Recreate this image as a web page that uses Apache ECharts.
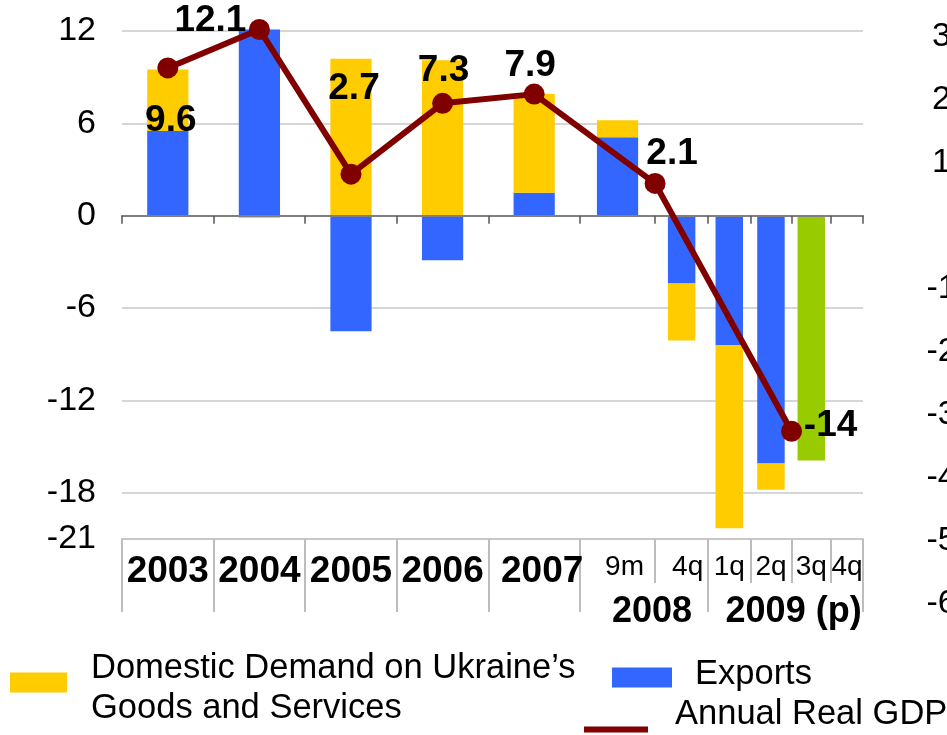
<!DOCTYPE html>
<html>
<head>
<meta charset="utf-8">
<script src="https://cdn.jsdelivr.net/npm/echarts@6/dist/echarts.min.js"></script>
<style>
  html, body { margin: 0; padding: 0; background: #fff; }
  #main { width: 947px; height: 735px; }
</style>
</head>
<body>
<div id="main"></div>
<script>
// data
var categories = ['2003', '2004', '2005', '2006', '2007', '9m', '4q', '1q', '2q', '3q', '4q'];
var exportsData = [5.5, 12.1, -7.5, -2.9, 1.5, 5.1, -4.4, -8.4, -16.1, null, null];
var domesticData = [4.0, -0.15, 10.2, 10.1, 6.4, 1.1, -3.7, -11.9, -1.7, null, null];
var forecastData = [null, null, null, null, null, null, null, null, null, -15.9, null];
var gdpYears = ['2003', '2004', '2005', '2006', '2007', '2008', '2009'];
var gdpData = [9.6, 12.1, 2.7, 7.3, 7.9, 2.1, -14];
var groupLabels = ['2008', '2009 (p)'];
var leftTicks = [12, 6, 0, -6, -12, -18, -21];
var rightTicks = [30, 20, 10, -10, -20, -30, -40, -50, -60];

// layout: slot widths (in year units), bar widths, where the gdp dots sit
var slotWidths = [1, 1, 1, 1, 1, 0.82, 0.58, 0.46, 0.45, 0.43, 0.35];
var barWidths = [0.45, 0.45, 0.45, 0.45, 0.45, 0.45, 0.3, 0.3, 0.3, 0.3, 0.3];
var labelShift = [0, 0, 0, 0, 16, 14, 12, 0, 0, 0, 0]; // px of left padding on the slot labels
var gdpAnchor = [0.5, 1.5, 2.5, 3.5, 4.5, 6, 9]; // slot boundary index, .5 = middle of a slot
var groupSlots = [[5, 7], [7, 11]];
var majorSlots = [0, 1, 2, 3, 4, 5, 7, 11];
var gdpLabelOffset = [[3, 53], [-49, -9], [3, -85], [1, -33], [-4, -28], [17, -30], [39, -5]];

var FONT = "'Liberation Sans', Arial, sans-serif";

var bounds = [0];
for (var i = 0; i < slotWidths.length; i++) bounds.push(bounds[i] + slotWidths[i]);
var total = bounds[bounds.length - 1];

function slotCenter(i) { return bounds[i] + slotWidths[i] / 2; }
function anchorX(a) {
  var i = Math.floor(a);
  if (i >= slotWidths.length) return bounds[i];
  return bounds[i] + (a - i) * slotWidths[i];
}
var centers = categories.map(function (c, i) { return slotCenter(i); });
var majorBounds = majorSlots.map(function (i) { return bounds[i]; });
var groupCenters = groupSlots.map(function (g) { return (bounds[g[0]] + bounds[g[1]]) / 2; });

function nearest(list, v) {
  var best = 0;
  for (var k = 1; k < list.length; k++) {
    if (Math.abs(list[k] - v) < Math.abs(list[best] - v)) best = k;
  }
  return best;
}

// bars drawn with custom series so every slot can have its own width
function barSeries(name, values, color, stackOn) {
  var data = [];
  values.forEach(function (v, i) {
    if (v != null) data.push([slotCenter(i), v, i]);
  });
  return {
    name: name,
    type: 'custom',
    xAxisIndex: 0,
    yAxisIndex: 0,
    itemStyle: { color: color },
    encode: { x: 0, y: 1 },
    renderItem: function (params, api) {
      var x = api.value(0), v = api.value(1), idx = api.value(2);
      var base = 0;
      if (stackOn && stackOn[idx] != null && stackOn[idx] * v > 0) base = stackOn[idx];
      var a = api.coord([x, base]);
      var b = api.coord([x, base + v]);
      var w = api.size([barWidths[idx], 0])[0];
      return {
        type: 'rect',
        shape: { x: a[0] - w / 2, y: Math.min(a[1], b[1]), width: w, height: Math.abs(a[1] - b[1]) },
        style: api.style()
      };
    },
    data: data
  };
}

var legendText = { fontFamily: FONT, fontSize: 34.5, lineHeight: 40, color: '#000' };
function spacer(h) { return { fontSize: 1, lineHeight: h }; }

var chart = echarts.init(document.getElementById('main'));

var option = {
  animation: false,
  textStyle: { fontFamily: FONT },
  grid: [
    { left: 122, right: 84, top: 31, bottom: 196 },
    { left: 951, width: 1, top: 37, bottom: 131 }
  ],
  legend: [
    {
      data: [{ name: 'Domestic Demand on Ukraine’s Goods and Services', icon: 'rect' }],
      left: 10, top: 642, padding: 0,
      itemWidth: 57, itemHeight: 20, selectedMode: false,
      formatter: function () { return '{s| }\n{t|Domestic Demand on Ukraine’s}\n{t|Goods and Services}'; },
      textStyle: { padding: [0, 0, 0, 19], rich: { s: spacer(12), t: legendText } }
    },
    {
      data: [{ name: 'Exports', icon: 'rect' }],
      left: 612, top: 657, padding: 0,
      itemWidth: 60, itemHeight: 20, selectedMode: false,
      formatter: function (n) { return '{t|' + n + '}\n{s| }'; },
      textStyle: { padding: [0, 0, 0, 18], rich: { s: spacer(6), t: legendText } }
    },
    {
      data: [{ name: 'Annual Real GDP', icon: 'rect', itemStyle: { color: '#800000' } }],
      left: 584, top: 697, padding: 0,
      itemWidth: 64, itemHeight: 6, selectedMode: false,
      formatter: function (n) { return '{t|' + n + '}\n{s| }'; },
      textStyle: { padding: [0, 0, 0, 22], rich: { s: spacer(30), t: legendText } }
    }
  ],
  xAxis: [
    {
      // zero line with the slot ticks
      gridIndex: 0, type: 'value', min: 0, max: total, z: 3,
      axisLine: { onZero: true, lineStyle: { color: '#7f7f7f', width: 2 } },
      axisTick: { show: true, length: 8, customValues: bounds, lineStyle: { color: '#555', width: 1.5 } },
      axisLabel: { show: false },
      splitLine: { show: false }
    },
    {
      // category row at the bottom
      gridIndex: 0, type: 'value', min: 0, max: total, position: 'bottom',
      axisLine: { onZero: false, lineStyle: { color: '#c8c8c8', width: 2 } },
      axisTick: { show: true, length: 44, customValues: bounds, lineStyle: { color: '#bdbdbd', width: 2 } },
      axisLabel: {
        customValues: centers,
        margin: 14,
        formatter: function (v) {
          var k = nearest(centers, v);
          var style = (k < 5 ? 'y' : 'q') + (labelShift[k] ? k : '');
          return '{' + style + '|' + categories[k] + '}';
        },
        rich: (function () {
          var r = {
            y: { fontFamily: FONT, fontSize: 37, fontWeight: 'bold', color: '#000' },
            q: { fontFamily: FONT, fontSize: 28, color: '#000' }
          };
          labelShift.forEach(function (s, k) {
            if (!s) return;
            var base = r[k < 5 ? 'y' : 'q'];
            r[(k < 5 ? 'y' : 'q') + k] = Object.assign({}, base, { padding: [0, 0, 0, s] });
          });
          return r;
        })()
      },
      splitLine: { show: false }
    },
    {
      // 2008 / 2009 group row
      gridIndex: 0, type: 'value', min: 0, max: total, position: 'bottom',
      axisLine: { show: false, onZero: false },
      axisTick: { show: true, length: 73, customValues: majorBounds, lineStyle: { color: '#bdbdbd', width: 2 } },
      axisLabel: {
        customValues: groupCenters,
        margin: 55,
        padding: [0, 0, 0, 16],
        fontFamily: FONT, fontSize: 36, fontWeight: 'bold', color: '#000',
        formatter: function (v) { return groupLabels[nearest(groupCenters, v)]; }
      },
      splitLine: { show: false }
    },
    { gridIndex: 1, type: 'value', min: 0, max: 1, show: false }
  ],
  yAxis: [
    {
      gridIndex: 0, type: 'value', min: -21, max: 12,
      axisLine: { show: false },
      axisTick: { show: false, customValues: leftTicks },
      axisLabel: {
        customValues: leftTicks, margin: 26, padding: [16, 0, 0, 0],
        fontFamily: FONT, fontSize: 34, color: '#000'
      },
      splitLine: { show: true, lineStyle: { color: '#c8c8c8', width: 1.5 } }
    },
    {
      // the next panel's axis, cut off by the picture edge
      gridIndex: 1, type: 'value', min: -60, max: 30, position: 'left',
      axisLine: { show: false },
      axisTick: { show: false },
      splitLine: { show: false },
      axisLabel: {
        customValues: rightTicks, margin: 0, align: 'center',
        fontFamily: FONT, fontSize: 34, color: '#000'
      }
    }
  ],
  series: [
    barSeries('Exports', exportsData, '#3366ff'),
    barSeries('Domestic Demand on Ukraine’s Goods and Services', domesticData, '#ffcc00', exportsData),
    barSeries('Forecast', forecastData, '#99cc00'),
    {
      name: 'Annual Real GDP',
      type: 'line',
      xAxisIndex: 0, yAxisIndex: 0,
      z: 5,
      clip: false,
      symbol: 'circle',
      symbolSize: 21,
      lineStyle: { color: '#800000', width: 6 },
      itemStyle: { color: '#800000' },
      label: {
        show: true,
        position: 'inside',
        fontFamily: FONT, fontSize: 37, fontWeight: 'bold', color: '#000',
        formatter: function (p) { return String(p.value[1]); }
      },
      data: gdpData.map(function (v, k) {
        return { name: gdpYears[k], value: [anchorX(gdpAnchor[k]), v], label: { offset: gdpLabelOffset[k] } };
      })
    }
  ]
};

chart.setOption(option);
</script>
</body>
</html>
